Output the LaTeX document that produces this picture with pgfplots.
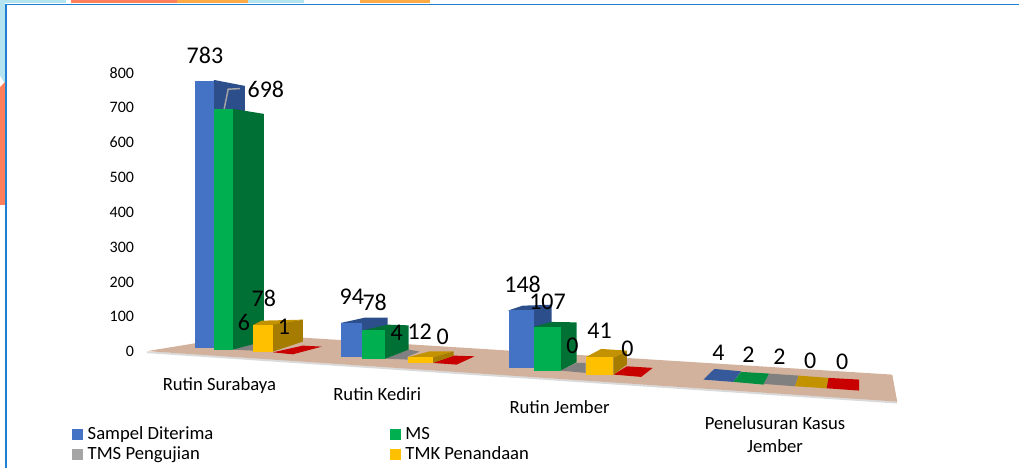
\documentclass[border=0pt]{standalone}
\usepackage{fontspec}
\setmainfont{Carlito}
\usepackage{pgfplots}
\pgfplotsset{compat=1.18}

\definecolor{bluef}{HTML}{4472C4}
\definecolor{blues}{HTML}{2C4E8A}
\definecolor{blueflat}{HTML}{35599B}
\definecolor{greenf}{HTML}{00B050}
\definecolor{greens}{HTML}{007034}
\definecolor{greenflat}{HTML}{008F41}
\definecolor{grayleg}{HTML}{A5A5A5}
\definecolor{grayflat}{HTML}{808080}
\definecolor{yellowf}{HTML}{FFC000}
\definecolor{yellows}{HTML}{A67C00}
\definecolor{yellowt}{HTML}{C39200}
\definecolor{redflat}{HTML}{C80000}
\definecolor{floorc}{HTML}{D2B29C}
\definecolor{floorsh}{HTML}{DADADA}
\definecolor{frameb}{HTML}{1F80D2}
\definecolor{bgblue}{HTML}{B4E4EF}
\definecolor{bgsalmon}{HTML}{FF7F5C}
\definecolor{bgorange}{HTML}{FFAB45}

\tikzset{
  dl/.style={font=\fontsize{18}{20}\selectfont,inner sep=0pt},
  cat/.style={font=\fontsize{14}{16}\selectfont,inner sep=0pt},
}
% faces are typed in image pixels, the filter turns them into values of the y axis
\pgfplotsset{
  px/.style={draw=none,forget plot,y filter/.expression={(352-y)/0.34875}},
}
\newcommand{\poly}[2]{\addplot[px,fill=#1] coordinates {#2};}
% x0, x1, base pixel, value, pixels per unit at that depth, colour
\newcommand{\front}[6]{%
  \pgfmathsetmacro{\tp}{#3-#4*#5}%
  \addplot[px,fill=#6] coordinates {(#1,#3)(#2,#3)(#2,\tp)(#1,\tp)};}
\newcommand{\lab}[4][dl]{%
  \pgfmathsetmacro{\ly}{(352-#3)/0.34875}%
  \edef\tmp{\noexpand\node[#1] at (axis cs:#2,\ly) {#4};}\tmp}

\begin{document}
\begin{tikzpicture}
\begin{axis}[
    scale only axis,
    width=765pt,
    height=351pt,
    xmin=0, xmax=1020,
    ymin=-332.616, ymax=1009.32,
    axis line style={draw=none},
    xtick=\empty,
    ytick={0,100,...,800},
    major tick length=0pt,
    tick label style={font=\fontsize{12}{14}\selectfont},
    /pgf/number format/assume math mode=true,
    yticklabel style={xshift=104pt},
    clip=false,
    legend columns=2,
    legend cell align=left,
    legend style={
      at={(72/1020,1-424.5/468)},anchor=north west,draw=none,fill=none,
      font=\fontsize{14}{16}\selectfont,inner sep=0pt,outer sep=0pt,
      /tikz/column 1/.style={column sep=1.5pt},
      /tikz/column 2/.style={column sep=130.5pt},
      /tikz/column 3/.style={column sep=1.5pt},
      row sep=0pt,
    },
    legend image code/.code={\fill[#1,draw=none] (0pt,-4pt) rectangle (8.25pt,4pt);},
  ]
  % slide behind the chart
  \poly{bgblue}{(0,0)(66,0)(66,3.5)(0,3.5)}
  \poly{bgsalmon}{(71,0)(177,0)(177,3.5)(71,3.5)}
  \poly{bgorange}{(177,0)(248,0)(248,3.5)(177,3.5)}
  \poly{bgblue}{(248,0)(304,0)(304,3.5)(248,3.5)}
  \poly{bgorange}{(360,0)(430,0)(430,3.5)(360,3.5)}
  \poly{bgblue}{(0,0)(5,0)(5,84)(0,76)}
  \poly{bgsalmon}{(0,87)(5,82)(5,205)(0,205)}
  \addplot[px,draw=frameb,line width=1.4pt] coordinates {(1020,4.5)(5.5,4.5)(5.5,468)};

  % floor
  \poly{floorsh}{(147,353.5)(898,404)(893,376)(147,352)}
  \poly{floorc}{(147,351.5)(250,334.7)(893,375)(898,402)}

  % Rutin Surabaya
  \poly{redflat}{(273,352.7)(293,354.7)(322,347)(303,346)}
  \poly{grayflat}{(233,350)(253,351)(253,346)(264,343)(248,345)}
  \poly{blues}{(214,80)(245,86)(245,340)(214,348)}
  \front{195}{214}{348.7}{783}{0.342}{bluef}
  \poly{greens}{(233,109)(264,114)(264,341.6)(233,350)}
  \front{214}{233}{350}{698}{0.345}{greenf}
  \poly{yellowt}{(253,325.5)(273,325.5)(303,320)(262,321)}
  \poly{yellows}{(273,325)(303,320)(303,342)(273,352)}
  \front{253}{273}{352}{78}{0.34}{yellowf}

  % Rutin Kediri
  \poly{redflat}{(433,363.3)(457,365)(475,356.7)(454,356)}
  \poly{grayflat}{(385,359)(408,360)(408,357)(420,352)(409,350)}
  \poly{blues}{(341,323.3)(365,318)(388,318)(388,350)(362,357.7)}
  \front{341}{362}{357.7}{94}{0.366}{bluef}
  \poly{greens}{(362,331)(388,325)(409,325.7)(409,350)(385,359.3)(385,331)}
  \front{362}{385}{359.3}{78}{0.367}{greenf}
  \poly{yellowt}{(408,357.7)(430,351.7)(454,351.7)(433,358)}
  \poly{yellows}{(433,358)(454,351.7)(454,356)(433,363.3)}
  \front{408}{433}{363.3}{12}{0.467}{yellowf}

  % Rutin Jember
  \poly{redflat}{(614,375)(641.7,377.3)(653.3,368.3)(627.3,366.7)}
  \poly{grayflat}{(561,371)(586,373.3)(586,363.3)(577,363.3)}
  \poly{blues}{(509,310.7)(523,306)(552,305)(552,360)(534,368.3)}
  \front{509}{534}{368.3}{148}{0.389}{bluef}
  \poly{greens}{(534,327.3)(552,322.3)(577,322.7)(577,362.7)(561,371)(561,328.3)}
  \front{534.3}{561}{371}{107}{0.408}{greenf}
  \poly{yellowt}{(586.7,357.3)(601.7,349.3)(627.3,351)(614,358.3)}
  \poly{yellows}{(614,358.3)(627.3,351)(627.3,365)(614,375)}
  \front{586.7}{614}{375}{41}{0.43}{yellowf}

  % Penelusuran Kasus Jember
  \poly{blueflat}{(704,380)(734,382.3)(741.7,371.7)(715,369.3)}
  \poly{greenflat}{(734,382.3)(764.3,385)(770,374)(741.7,372.3)}
  \poly{grayflat}{(764.3,384.3)(795.7,386.7)(799.3,376)(770,374)}
  \poly{yellowt}{(795.7,386.7)(827.3,388.7)(829.3,378.3)(799.3,376)}
  \poly{redflat}{(827.3,388.7)(860,391)(860,380)(829.3,378.3)}

  % leader line of the 698 label
  \addplot[px,draw=grayleg,line width=1.1pt] coordinates {(224.3,109)(228.3,89.3)(240,88.7)};

  \addlegendimage{fill=bluef}\addlegendentry{Sampel Diterima}
  \addlegendimage{fill=greenf}\addlegendentry{MS}
  \addlegendimage{fill=grayleg}\addlegendentry{TMS Pengujian}
  \addlegendimage{fill=yellowf}\addlegendentry{TMK Penandaan}

  \lab{205}{55}{783}
  \lab{266}{90}{698}
  \lab{264}{299}{78}
  \lab{244}{323}{6}
  \lab{284}{327}{1}
  \lab{352}{297}{94}
  \lab{375}{303}{78}
  \lab{397}{333}{4}
  \lab{420}{332}{12}
  \lab{443}{337}{0}
  \lab{523}{285}{148}
  \lab{548}{302}{107}
  \lab{573}{346}{0}
  \lab{600}{331}{41}
  \lab{628}{349}{0}
  \lab{719}{353}{4}
  \lab{749}{355}{2}
  \lab{780}{357}{2}
  \lab{811}{361}{0}
  \lab{843}{362}{0}

  \lab[cat]{219.5}{385.5}{Rutin Surabaya}
  \lab[cat]{377.5}{394.5}{Rutin Kediri}
  \lab[cat]{560}{407.5}{Rutin Jember}
  \lab[cat]{775.7}{423.5}{Penelusuran Kasus}
  \lab[cat]{775.7}{446.5}{Jember}
\end{axis}
\end{tikzpicture}
\end{document}
